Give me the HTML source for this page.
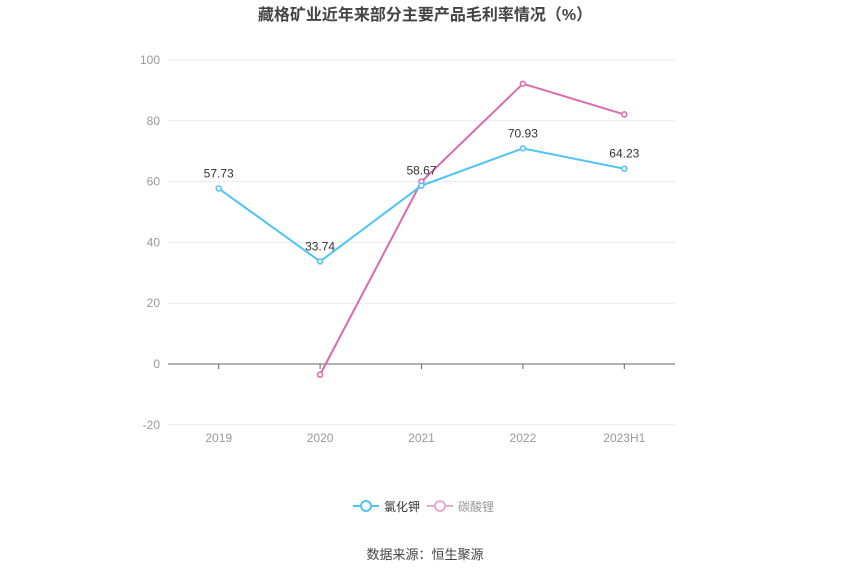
<!DOCTYPE html>
<html><head><meta charset="utf-8"><style>
body{margin:0;background:#fff;}
svg{display:block;font-family:"Liberation Sans","Noto Sans CJK SC",sans-serif;}
</style></head><body>
<svg id="chart" width="850" height="575">
<text x="425" y="20" text-anchor="middle" font-size="16" font-weight="bold" fill="#444">藏格矿业近年来部分主要产品毛利率情况（%）</text>
<g id="grid"></g><g id="series"></g>
<g>
<g>
<line x1="353" y1="506" x2="379" y2="506" stroke="#4fc3f7" stroke-width="2"/>
<circle cx="366" cy="506" r="5" fill="#fff" stroke="#4fc3f7" stroke-width="2"/>
<text x="384" y="511" font-size="12" fill="#333">氯化钾</text></g>
<g>
<line x1="427" y1="506" x2="453" y2="506" stroke="#eaa6d3" stroke-width="2"/>
<circle cx="440" cy="506" r="5" fill="#fff" stroke="#eaa6d3" stroke-width="2"/>
<text x="458" y="511" font-size="12" fill="#999">碳酸锂</text></g>
</g>
<text x="425" y="559" text-anchor="middle" font-size="13" fill="#444">数据来源：恒生聚源</text>
</svg>
<script>
const categories=["2019","2020","2021","2022","2023H1"];
const kclValues=[57.73,33.74,58.67,70.93,64.23];
const li2co3Values=[null,-3.5,60,92.2,82.1];
const yTicks=[-20,0,20,40,60,80,100];
const NS="http://www.w3.org/2000/svg";
const left=168,right=675,band=(right-left)/categories.length;
const x=i=>left+band*(i+0.5);
const y=v=>364-v*3.04;
function mk(tag,attrs,parent){const e=document.createElementNS(NS,tag);for(const k in attrs)e.setAttribute(k,attrs[k]);parent.appendChild(e);return e;}
const grid=document.getElementById('grid'),ser=document.getElementById('series');
yTicks.forEach(t=>{
 const l=mk('line',{x1:left,x2:right,y1:y(t),y2:y(t),stroke:t===0?'#666':'#e6e9ef','stroke-width':1},grid);
 
 
 const tx=mk('text',{x:160,y:y(t)+4,'text-anchor':'end','font-size':12,fill:'#999'},grid);tx.textContent=t;
 
 
});
categories.forEach((c,i)=>{
 const tk=mk('line',{x1:x(i),x2:x(i),y1:364,y2:369,stroke:'#666'},grid);
 
 
 const tx=mk('text',{x:x(i),y:442,'text-anchor':'middle','font-size':12,fill:'#999'},grid);tx.textContent=c;
 
 
});
function draw(vals,color,name,labels){
 const pts=vals.map((v,i)=>v===null?null:[x(i),y(v)]).filter(p=>p);
 const pl=mk('polyline',{points:pts.map(p=>p.join(',')).join(' '),fill:'none',stroke:color,'stroke-width':2},ser);
 
 
 vals.forEach((v,i)=>{if(v===null)return;
  const c=mk('circle',{cx:x(i),cy:y(v),r:2.5,fill:'#fff',stroke:color,'stroke-width':1.5},ser);
  
  
  if(labels){const t=mk('text',{x:x(i),y:y(v)-11,'text-anchor':'middle','font-size':12,fill:'#333'},ser);t.textContent=v.toFixed(2);
   
   }
 });
}
draw(li2co3Values,'#d96bb0','li2co3',false);
draw(kclValues,'#4fc3f7','kcl',true);
</script>
</body></html>
